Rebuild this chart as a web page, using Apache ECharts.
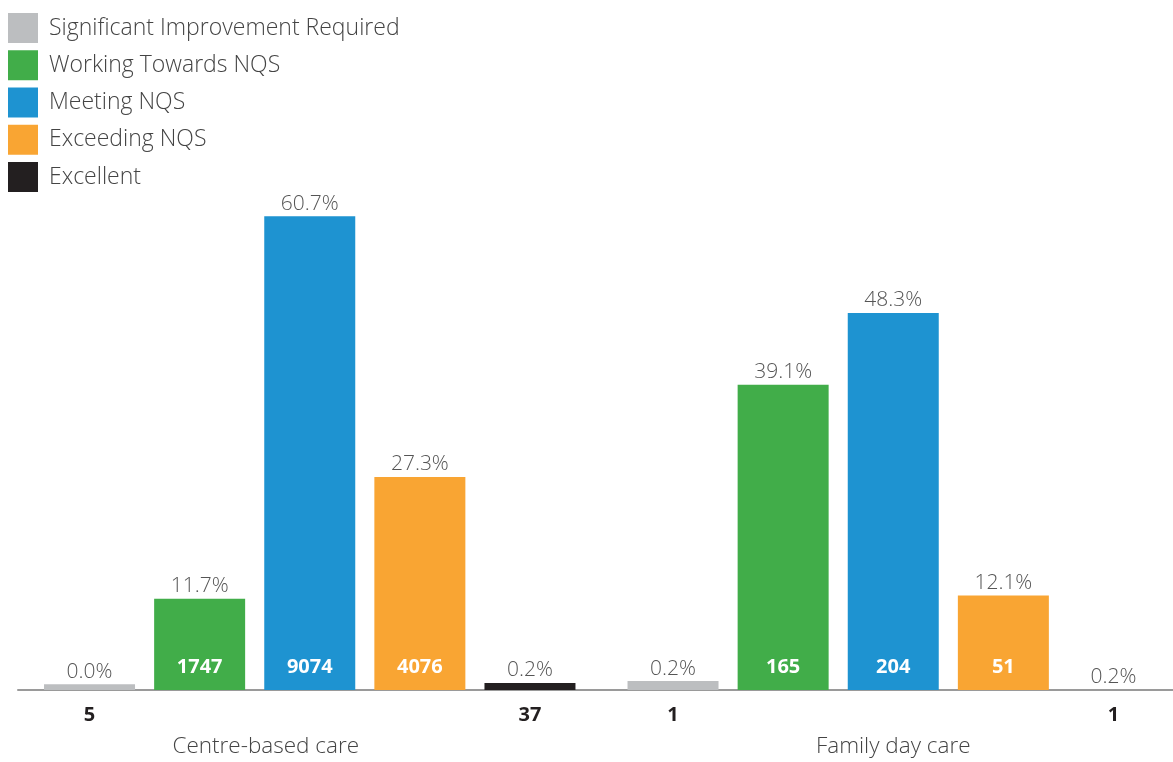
<!DOCTYPE html>
<html><head><meta charset="utf-8">
<script src="https://cdn.jsdelivr.net/npm/echarts@6/dist/echarts.min.js"></script>
<style>html,body{margin:0;padding:0;background:#fff}#c{width:1173px;height:762px}</style>
</head><body><div id="c"></div>
<script>
const categories = ['Centre-based care', 'Family day care'];
const seriesNames = ['Significant Improvement Required', 'Working Towards NQS', 'Meeting NQS', 'Exceeding NQS', 'Excellent'];
const colors = ['#BCBEC0', '#41AD49', '#1E93D1', '#F9A533', '#231F20'];
// bar heights (percent)
const sirValues = [0.75, 1.15];
const wtValues = [11.7, 39.1];
const meetValues = [60.7, 48.3];
const excValues = [27.3, 12.1];
const excelValues = [0.9, 0];
// percentage labels
const sirPct = ['0.0%', '0.2%'];
const wtPct = ['11.7%', '39.1%'];
const meetPct = ['60.7%', '48.3%'];
const excPct = ['27.3%', '12.1%'];
const excelPct = ['0.2%', '0.2%'];
// service counts
const sirCounts = [5, 1];
const wtCounts = [1747, 165];
const meetCounts = [9074, 204];
const excCounts = [4076, 51];
const excelCounts = [37, 1];

const allValues = [sirValues, wtValues, meetValues, excValues, excelValues];
const allPct = [sirPct, wtPct, meetPct, excPct, excelPct];
const allCounts = [sirCounts, wtCounts, meetCounts, excCounts, excelCounts];

const FONT = '"Open Sans"';
const series = seriesNames.map((name, s) => {
  const vals = allValues[s];
  const data = vals.map((v, i) => ({
    value: v,
    label: {
      show: true, position: 'top', distance: 2,
      formatter: allPct[s][i], color: '#555', fontSize: 21, fontFamily: FONT, fontWeight: 300
    }
  }));
  const mp = [];
  vals.forEach((v, i) => {
    const inside = v > 5;
    mp.push({
      coord: [categories[i], 0],
      label: inside ? {
        show: true, position: 'inside', formatter: String(allCounts[s][i]), color: '#fff', fontSize: 20,
        fontWeight: 'bold', fontFamily: FONT, offset: [0, -23]
      } : {
        show: true, position: 'inside', formatter: String(allCounts[s][i]), color: '#231F20', fontSize: 20,
        fontWeight: 'bold', fontFamily: FONT, offset: [0, 25]
      }
    });
  });
  return {
    name, type: 'bar', data,
    itemStyle: { color: colors[s] },
    barWidth: 91, barGap: '21%',
    markPoint: {
      symbol: 'circle', symbolSize: 1, itemStyle: { color: 'rgba(0,0,0,0)' },
      data: mp, silent: true, animation: false
    },
    animation: false
  };
});

const chart = echarts.init(document.getElementById('c'));
chart.setOption({
  animation: false,
  color: colors,
  legend: {
    orient: 'vertical', left: 8, top: 13, padding: 0,
    itemWidth: 30, itemHeight: 30, itemGap: 7.25,
    icon: 'rect',
    textStyle: { fontSize: 23, color: '#444', fontFamily: FONT, fontWeight: 300, padding: [0, 0, 0, 6] },
    data: seriesNames
  },
  grid: { left: 18, right: -12, top: 206, bottom: 72, outerBoundsMode: 'none', containLabel: false },
  xAxis: {
    type: 'category',
    data: [
      { value: categories[0], textStyle: { padding: [0, 88, 0, 0] } },
      { value: categories[1] }
    ],
    axisLine: { lineStyle: { color: '#9a9a9a', width: 2 } },
    axisTick: { show: false },
    axisLabel: { margin: 45, fontSize: 22.5, color: '#444', fontFamily: FONT, fontWeight: 300 }
  },
  yAxis: { type: 'value', min: 0, max: 62, show: false, splitLine: { show: false } },
  series
});
</script></body></html>
